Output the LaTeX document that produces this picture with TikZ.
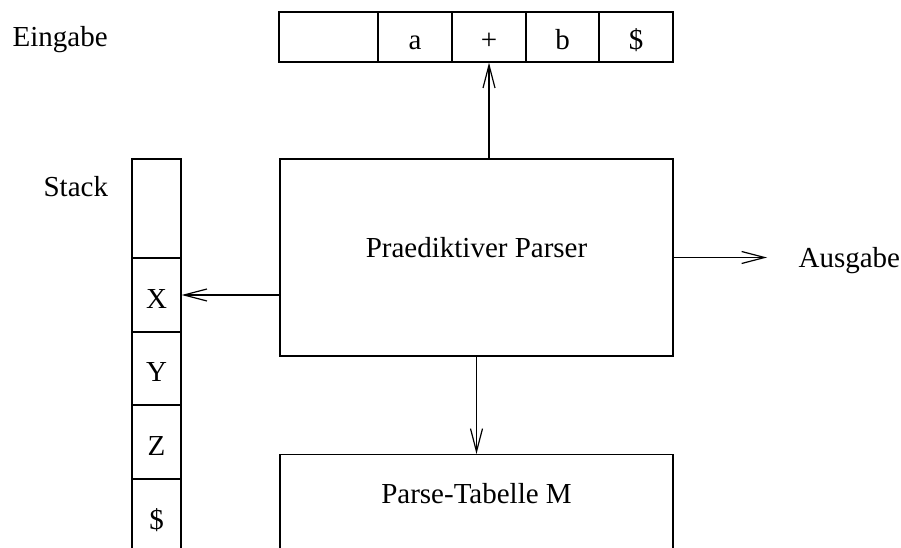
\documentclass[tikz,border=0pt]{standalone}
\usepackage{fontspec}
\setmainfont{Liberation Serif}
\usepackage{tikz}
\usetikzlibrary{arrows.meta,positioning}

\begin{document}
\begin{tikzpicture}[
  x=1pt, y=-1pt,
  >={Straight Barb[length=23pt, width=12pt]},
  line width=1.2pt,
  font=\fontsize{29}{34}\selectfont,
  cell/.style={draw, inner sep=0pt, minimum width=#1,
               text height=26pt, text depth=0pt},
  incell/.style={cell=74pt, minimum height=50pt},
  stcell/.style={cell=49pt, minimum height=74pt},
  bigbox/.style={draw, inner sep=0pt, minimum width=393pt},
  lbl/.style={inner sep=0pt, anchor=base west},
  arr/.style={->},
]
\path[use as bounding box, clip] (0,0) rectangle (901,548);
%% Row 1: input tape
\node[lbl] (eingabe) at (12,47) {Eingabe};
\node[incell, minimum width=99pt] (in0) at (328.5,37) {};
\node[incell] (ina) at (415,37) {a};
\node[incell] (inplus) at (489,37) {+};
\node[incell] (inb) at (562.5,37) {b};
\node[incell] (indollar) at (636,37) {\$};
%% Stack on the left
\node[lbl] (stack) at (43,196) {Stack};
\node[stcell, minimum height=99pt] (st0) at (156.5,208.5) {};
\node[stcell] (stx) at (156.5,295) {X};
\node[stcell] (sty) at (156.5,368.5) {Y};
\node[stcell] (stz) at (156.5,442) {Z};
\node[stcell] (stdollar) at (156.5,516) {\$};
%% Parser in the middle
\node[bigbox, minimum height=197pt, text height=0pt, text depth=0pt]
  (parser) at (476.5,257.5) {Praediktiver Parser};
\draw[arr] (inplus.south |- parser.north) -- (inplus.south);
\draw[arr] (parser.west |- stx) -- (stx.east);
%% Output on the right
\coordinate (outend) at (767,257.5);
\node[lbl] (ausgabe) at (798,267) {Ausgabe};
\draw[arr] (parser.east) -- (outend);
%% Parse table below
\node[bigbox, anchor=north, text height=49pt, text depth=110pt]
  (table) at (476.5,454) {Parse-Tabelle M};
\draw[arr] (parser) -- (table);
\end{tikzpicture}
\end{document}
